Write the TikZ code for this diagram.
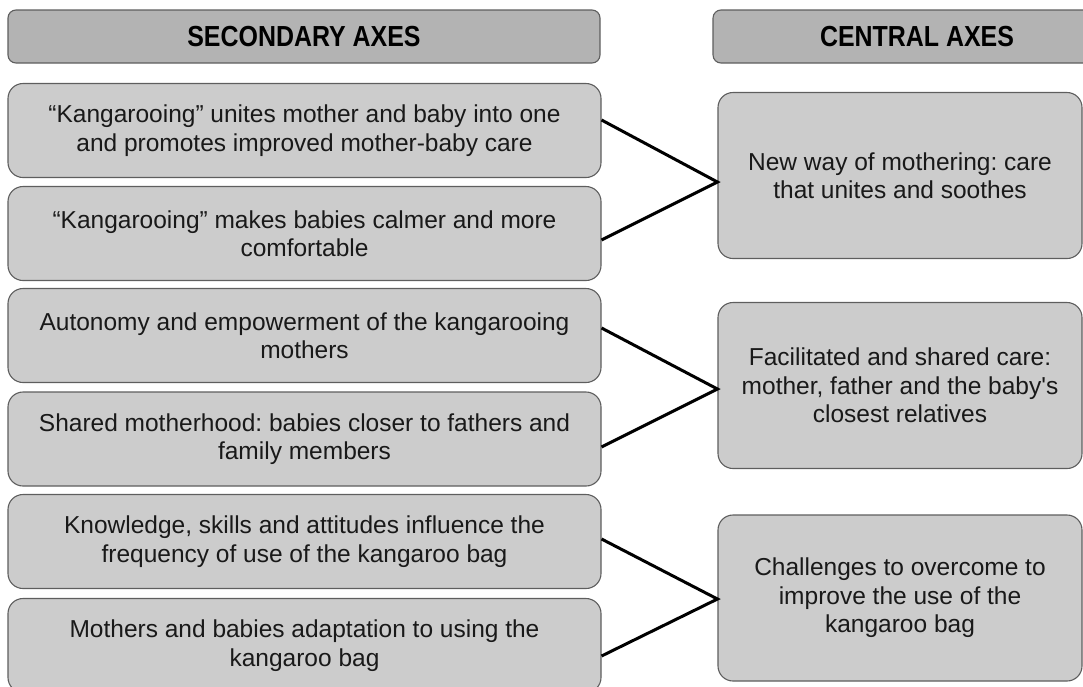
\documentclass[tikz,border=0pt]{standalone}
\usepackage{fontspec}
\setmainfont{Liberation Sans}
\newfontfamily\headfont[FakeStretch=0.86]{Liberation Sans}
\definecolor{boxfill}{HTML}{CCCCCC}
\definecolor{headfill}{HTML}{B3B3B3}
\definecolor{boxline}{HTML}{5E5E5E}
\frenchspacing
\begin{document}
\begin{tikzpicture}[x=1pt,y=-1pt,
  axisbox/.style={draw=boxline,line width=1.1pt,fill=boxfill,rounded corners=15pt,
    align=center,inner sep=0pt,font=\fontsize{24.5}{28.5}\selectfont,text=black!90},
  secbox/.style={axisbox,minimum width=593pt,minimum height=94pt},
  cenbox/.style={axisbox,minimum width=364pt,minimum height=166pt},
  headbox/.style={draw=boxline,line width=1.1pt,fill=headfill,rounded corners=8pt,
    minimum height=53pt,inner sep=0pt,font=\headfont\bfseries\fontsize{29}{32}\selectfont},
  link/.style={line width=3pt,black}]
\useasboundingbox (0,0) rectangle (1083,686);
\clip (0,0) rectangle (1083,686);

% column headings
\node[headbox,minimum width=592pt] (hsec) at (304,36.5) {SECONDARY AXES};
\node[headbox,minimum width=408pt] (hcen) at (917,36.5) {CENTRAL AXES};

% secondary axes
\node[secbox] (s1) at (304.5,130.5) {“Kangarooing” unites mother and baby into one\\and promotes improved mother-baby care};
\node[secbox] (s2) at (304.5,233.5) {“Kangarooing” makes babies calmer and more\\comfortable};
\node[secbox] (s3) at (304.5,335.5) {Autonomy and empowerment of the kangarooing\\mothers};
\node[secbox] (s4) at (304.5,439) {Shared motherhood: babies closer to fathers and\\family members};
\node[secbox] (s5) at (304.5,541.5) {Knowledge, skills and attitudes influence the\\frequency of use of the kangaroo bag};
\node[secbox] (s6) at (304.5,645.5) {Mothers and babies adaptation to using the\\kangaroo bag};

% central axes
\node[cenbox] (c1) at (900,175.5) {New way of mothering: care\\that unites and soothes};
\node[cenbox] (c2) at (900,385.5) {Facilitated and shared care:\\mother, father and the baby\textquotesingle s\\closest relatives};
\node[cenbox] (c3) at (900,598) {Challenges to overcome to\\improve the use of the\\kangaroo bag};

% connectors joining each pair of secondary axes to its central axis
\draw[link] ([yshift=10.5pt]s1.east) -- ([yshift=-6.5pt]c1.west) -- ([yshift=-6.5pt]s2.east);
\draw[link] ([yshift=7.5pt]s3.east) -- ([yshift=-3.5pt]c2.west) -- ([yshift=-8pt]s4.east);
\draw[link] ([yshift=2.5pt]s5.east) -- ([yshift=-1pt]c3.west) -- ([yshift=-10.5pt]s6.east);
\end{tikzpicture}
\end{document}
